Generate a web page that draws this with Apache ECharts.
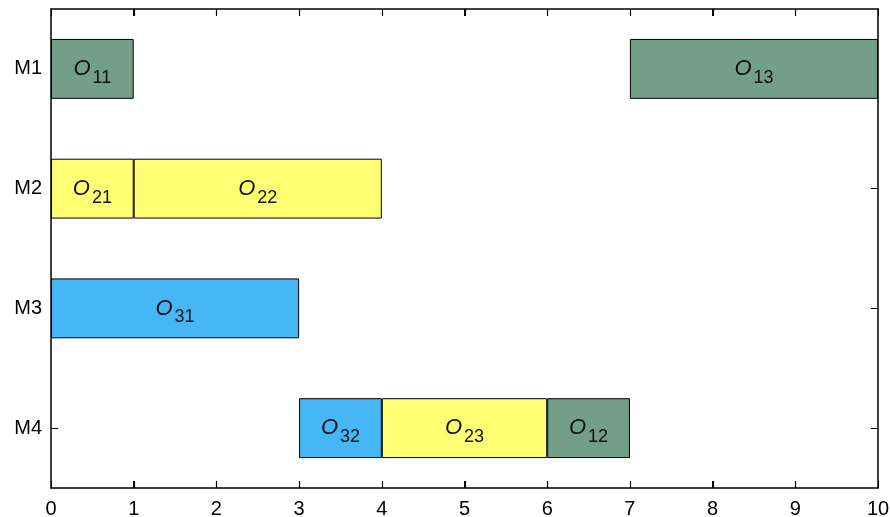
<!DOCTYPE html>
<html>
<head>
    <meta charset="utf-8" />
    <title></title>
    <script src="https://cdn.jsdelivr.net/npm/echarts@6/dist/echarts.min.js"></script>
    <style>
        body { margin: 0; background: #fff; }
        #chart { width: 890px; height: 517px; }
    </style>
</head>
<body>
    <div id="chart"></div>
    <script type="text/javascript">
        // machines on the y axis
        var machines = ['M1', 'M2', 'M3', 'M4'];
        // tick values of the time axis
        var xTicks = [0, 1, 2, 3, 4, 5, 6, 7, 8, 9, 10];
        // operations: machine index, start, end, job, operation number
        var opMachine = [0, 0, 1, 1, 2, 3, 3, 3];
        var opStart   = [0, 7, 0, 1, 0, 3, 4, 6];
        var opEnd     = [1, 10, 1, 4, 3, 4, 6, 7];
        var opJob     = [1, 1, 2, 2, 3, 3, 2, 1];
        var opNum     = [1, 3, 1, 2, 1, 2, 3, 2];
        // one colour per job
        var jobColors = { 1: '#739e88', 2: '#ffff73', 3: '#46b6f6' };

        var font = '"Liberation Sans", Arial, sans-serif';
        var gridPos = { left: 51, right: 12, top: 9, bottom: 29 };

        // build the segments of each machine (idle gaps are invisible), then stack them
        var segs = machines.map(function () { return []; });
        machines.forEach(function (m, mi) {
            var ops = [];
            for (var i = 0; i < opMachine.length; i++) if (opMachine[i] === mi) ops.push(i);
            ops.sort(function (a, b) { return opStart[a] - opStart[b]; });
            var cursor = 0;
            ops.forEach(function (i) {
                if (opStart[i] > cursor) segs[mi].push({ value: opStart[i] - cursor, gap: true });
                segs[mi].push({ value: opEnd[i] - opStart[i], op: i });
                cursor = opEnd[i];
            });
        });
        var slots = Math.max.apply(null, segs.map(function (s) { return s.length; }));

        var series = [];
        for (var k = 0; k < slots; k++) {
            var sData = machines.map(function (m, mi) {
                var s = segs[mi][k];
                if (!s) return null;
                if (s.gap) {
                    return { value: s.value, itemStyle: { color: 'rgba(0,0,0,0)', borderWidth: 0 } };
                }
                return {
                    value: s.value,
                    sub: '' + opJob[s.op] + opNum[s.op],
                    itemStyle: { color: jobColors[opJob[s.op]], borderColor: '#000', borderWidth: 1 }
                };
            });
            series.push({
                type: 'bar',
                stack: 'gantt',
                barWidth: '50%',
                silent: true,
                data: sData,
                label: {
                    show: true,
                    position: 'inside',
                    formatter: function (p) {
                        return p.data && p.data.sub ? '{o|O}{s|' + p.data.sub + '}' : '';
                    },
                    rich: {
                        o: { fontSize: 22, fontStyle: 'italic', fontFamily: font, color: '#111', lineHeight: 22, padding: [0, 2, 0, 0] },
                        s: { fontSize: 18, fontFamily: font, color: '#111', lineHeight: 18, padding: [18, 0, 0, 0] }
                    }
                }
            });
        }

        function axisBase() {
            return {
                axisLine: { show: true, onZero: false, lineStyle: { color: '#000', width: 1.5 } },
                axisTick: { show: true, inside: true, length: 7, lineStyle: { color: '#000' } },
                splitLine: { show: false }
            };
        }

        var xBottom = axisBase();
        xBottom.type = 'value'; xBottom.min = 0; xBottom.max = 10; xBottom.interval = 1;
        xBottom.axisLabel = { color: '#000', fontSize: 20, fontFamily: font, margin: 11 };

        var xTop = axisBase();
        xTop.type = 'value'; xTop.min = 0; xTop.max = 10; xTop.interval = 1; xTop.position = 'top';
        xTop.axisLabel = { show: false };

        var yLeft = axisBase();
        yLeft.type = 'category'; yLeft.data = machines; yLeft.inverse = true;
        yLeft.axisTick.alignWithLabel = true;
        yLeft.axisLabel = { color: '#000', fontSize: 20, fontFamily: font, margin: 9 };

        var yRight = axisBase();
        yRight.type = 'category'; yRight.data = machines; yRight.inverse = true; yRight.position = 'right';
        yRight.axisTick.alignWithLabel = true;
        yRight.axisLabel = { show: false };

        var option = {
            animation: false,
            grid: { left: gridPos.left, right: gridPos.right, top: gridPos.top, bottom: gridPos.bottom, outerBoundsMode: 'none' },
            xAxis: [xBottom, xTop],
            yAxis: [yLeft, yRight],
            series: series
        };

        var myChart = echarts.init(document.getElementById('chart'));
        myChart.setOption(option);

        // the x axis ticks did not show up in this setup, so draw them from the axis scale
        var yTop = gridPos.top;
        var yBottom = myChart.getHeight() - gridPos.bottom;
        var tickLines = [];
        xTicks.slice(1, -1).forEach(function (v) {
            var px = Math.round(myChart.convertToPixel({ xAxisIndex: 0 }, v)) + 0.5;
            tickLines.push({
                type: 'line', silent: true, z: 10,
                shape: { x1: px, y1: yBottom, x2: px, y2: yBottom - 7 },
                style: { stroke: '#000', lineWidth: 1.2 }
            });
            tickLines.push({
                type: 'line', silent: true, z: 10,
                shape: { x1: px, y1: yTop, x2: px, y2: yTop + 7 },
                style: { stroke: '#000', lineWidth: 1.2 }
            });
        });
        myChart.setOption({ graphic: tickLines });
    </script>
</body>
</html>
